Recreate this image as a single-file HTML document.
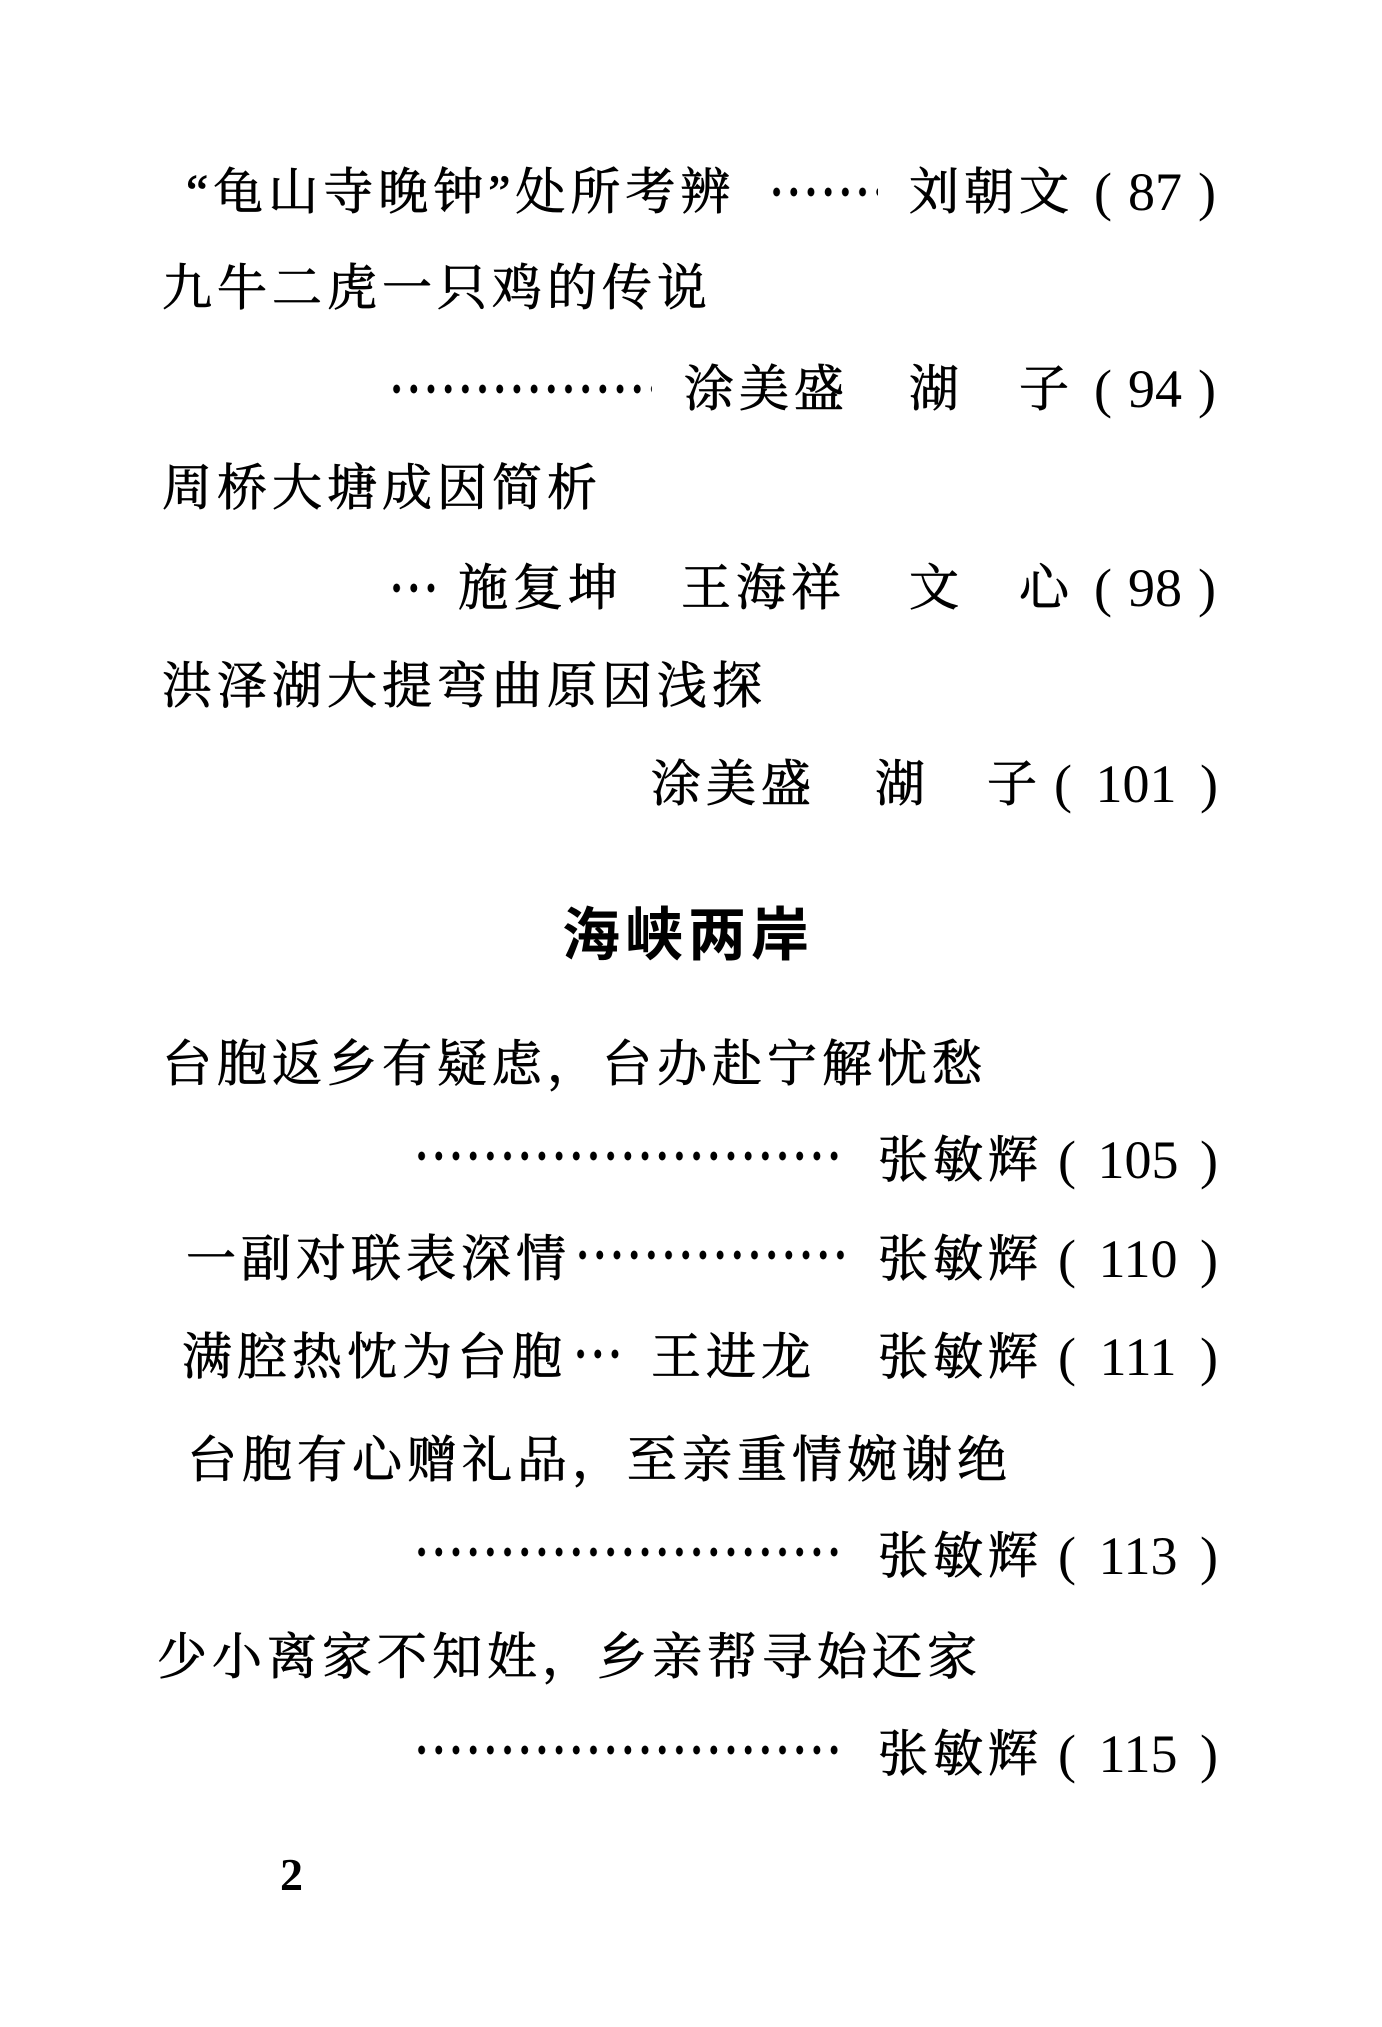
<!DOCTYPE html>
<html><head><meta charset="utf-8"><style>
html,body{margin:0;padding:0;background:#fff;}
body{width:1382px;height:2027px;position:relative;overflow:hidden;color:#000;}
.t{position:absolute;font-family:"Liberation Serif","Noto Serif CJK SC",serif;font-size:50px;line-height:50px;letter-spacing:5px;white-space:nowrap;-webkit-text-stroke:0.8px #000;}
.n{position:absolute;font-family:"Liberation Serif",serif;font-size:54px;line-height:50px;white-space:nowrap;}
.d{position:absolute;height:12px;background-image:radial-gradient(ellipse 3.6px 4.6px at 50% 50%,#000 90%,transparent 100%);background-size:17.2px 12px;background-repeat:repeat-x;}
.h{position:absolute;font-family:"Noto Sans CJK SC",sans-serif;font-weight:700;font-size:58px;line-height:58px;letter-spacing:5px;white-space:nowrap;}
</style></head><body>

<!-- L1 -->
<div class="t" style="left:186px;top:167px">“龟山寺晚钟”处所考辨</div>
<div class="d" style="left:768px;top:186px;width:110px"></div>
<div class="t" style="left:909px;top:167px">刘朝文</div>
<div class="n" style="left:1094px;top:167px">(</div>
<div class="n" style="left:1112px;top:167px;width:86px;text-align:center">87</div>
<div class="n" style="left:1198px;top:167px">)</div>

<!-- L2 -->
<div class="t" style="left:162px;top:263px">九牛二虎一只鸡的传说</div>

<!-- L3 -->
<div class="d" style="left:388px;top:383px;width:264px"></div>
<div class="t" style="left:684px;top:364px">涂美盛</div>
<div class="t" style="left:909px;top:364px">湖</div>
<div class="t" style="left:1019px;top:364px">子</div>
<div class="n" style="left:1094px;top:364px">(</div>
<div class="n" style="left:1112px;top:364px;width:86px;text-align:center">94</div>
<div class="n" style="left:1198px;top:364px">)</div>

<!-- L4 -->
<div class="t" style="left:162px;top:463px">周桥大塘成因简析</div>

<!-- L5 -->
<div class="d" style="left:388px;top:582px;width:52px"></div>
<div class="t" style="left:458px;top:563px">施复坤</div>
<div class="t" style="left:681px;top:563px">王海祥</div>
<div class="t" style="left:909px;top:563px">文</div>
<div class="t" style="left:1019px;top:563px">心</div>
<div class="n" style="left:1094px;top:563px">(</div>
<div class="n" style="left:1112px;top:563px;width:86px;text-align:center">98</div>
<div class="n" style="left:1198px;top:563px">)</div>

<!-- L6 -->
<div class="t" style="left:162px;top:661px">洪泽湖大提弯曲原因浅探</div>

<!-- L7 -->
<div class="t" style="left:651px;top:759px">涂美盛</div>
<div class="t" style="left:875px;top:759px">湖</div>
<div class="t" style="left:987px;top:759px">子</div>
<div class="n" style="left:1054px;top:759px">(</div>
<div class="n" style="left:1076px;top:759px;width:120px;text-align:center">101</div>
<div class="n" style="left:1200px;top:759px">)</div>

<!-- Heading -->
<div class="h" style="left:562px;top:901px">海峡两岸</div>

<!-- L8 -->
<div class="t" style="left:162px;top:1039px">台胞返乡有疑虑，台办赴宁解忧愁</div>

<!-- L9 -->
<div class="d" style="left:413px;top:1150px;width:432px"></div>
<div class="t" style="left:878px;top:1135px">张敏辉</div>
<div class="n" style="left:1058px;top:1135px">(</div>
<div class="n" style="left:1078px;top:1135px;width:120px;text-align:center">105</div>
<div class="n" style="left:1200px;top:1135px">)</div>

<!-- L10 -->
<div class="t" style="left:186px;top:1234px">一副对联表深情</div>
<div class="d" style="left:574px;top:1249px;width:272px"></div>
<div class="t" style="left:878px;top:1234px">张敏辉</div>
<div class="n" style="left:1058px;top:1234px">(</div>
<div class="n" style="left:1078px;top:1234px;width:120px;text-align:center">110</div>
<div class="n" style="left:1200px;top:1234px">)</div>

<!-- L11 -->
<div class="t" style="left:182px;top:1332px">满腔热忱为台胞</div>
<div class="d" style="left:572px;top:1348px;width:52px"></div>
<div class="t" style="left:651px;top:1332px">王进龙</div>
<div class="t" style="left:878px;top:1332px">张敏辉</div>
<div class="n" style="left:1058px;top:1332px">(</div>
<div class="n" style="left:1078px;top:1332px;width:120px;text-align:center">111</div>
<div class="n" style="left:1200px;top:1332px">)</div>

<!-- L12 -->
<div class="t" style="left:187px;top:1435px">台胞有心赠礼品，至亲重情婉谢绝</div>

<!-- L13 -->
<div class="d" style="left:413px;top:1546px;width:432px"></div>
<div class="t" style="left:878px;top:1531px">张敏辉</div>
<div class="n" style="left:1058px;top:1531px">(</div>
<div class="n" style="left:1078px;top:1531px;width:120px;text-align:center">113</div>
<div class="n" style="left:1200px;top:1531px">)</div>

<!-- L14 -->
<div class="t" style="left:157px;top:1632px">少小离家不知姓，乡亲帮寻始还家</div>

<!-- L15 -->
<div class="d" style="left:413px;top:1744px;width:432px"></div>
<div class="t" style="left:878px;top:1729px">张敏辉</div>
<div class="n" style="left:1058px;top:1729px">(</div>
<div class="n" style="left:1078px;top:1729px;width:120px;text-align:center">115</div>
<div class="n" style="left:1200px;top:1729px">)</div>

<!-- page number -->
<div class="n" style="left:280px;top:1852px;font-size:46px;line-height:46px;font-weight:700">2</div>

</body></html>
